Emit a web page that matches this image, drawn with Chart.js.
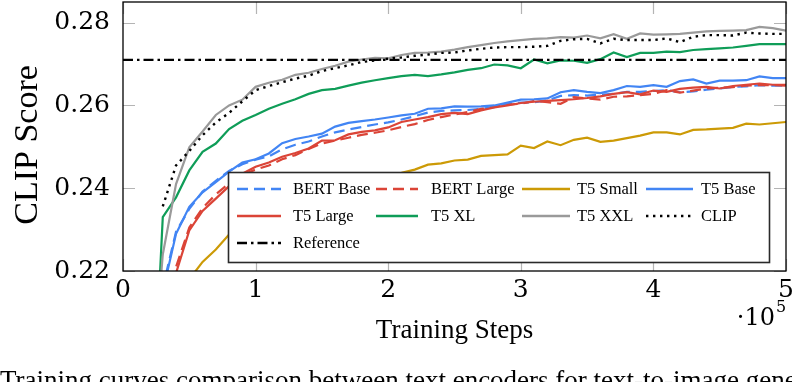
<!DOCTYPE html>
<html><head><meta charset="utf-8">
<script src="https://cdn.jsdelivr.net/npm/chart.js@4.4.1/dist/chart.umd.min.js"></script>
<style>
html,body{margin:0;padding:0;background:#fff;overflow:hidden}
#wrap{position:relative;width:792px;height:382px}
#caption{position:absolute;left:0;top:365px;white-space:nowrap;font-family:'Liberation Serif',serif;font-size:27px;color:#000;line-height:30px}
</style></head><body>
<div id="wrap"><canvas id="c" width="792" height="382"></canvas><div id="caption">Training curves comparison between text encoders for text-to-image generation.</div></div>
<script>
// Training steps (in units of 10^5)
const steps = [0.2,0.3,0.4,0.5,0.6,0.7,0.8,0.9,1.0,1.1,1.2,1.3,1.4,1.5,1.6,1.7,1.8,1.9,2.0,2.1,2.2,2.3,2.4,2.5,2.6,2.7,2.8,2.9,3.0,3.1,3.2,3.3,3.4,3.5,3.6,3.7,3.8,3.9,4.0,4.1,4.2,4.3,4.4,4.5,4.6,4.7,4.8,4.9,5.0];
const bertBase = [0.17,0.216,0.2295,0.235,0.2392,0.2418,0.2442,0.2458,0.2469,0.2477,0.2494,0.2505,0.2513,0.2525,0.2535,0.2542,0.2548,0.2554,0.2559,0.2566,0.2574,0.2583,0.2587,0.2588,0.2589,0.2592,0.2596,0.2603,0.2607,0.2608,0.2612,0.2623,0.2625,0.2624,0.2626,0.2628,0.2633,0.2633,0.2635,0.2637,0.2632,0.2634,0.2638,0.2641,0.2645,0.2646,0.2649,0.2648,0.2648];
const bertLarge = [0.16,0.207,0.221,0.2305,0.2352,0.2385,0.2412,0.2432,0.2445,0.2455,0.247,0.248,0.2495,0.2508,0.2515,0.2522,0.2529,0.2534,0.254,0.2548,0.2555,0.2565,0.2572,0.2578,0.2584,0.2592,0.2598,0.2602,0.2604,0.2611,0.2608,0.2604,0.262,0.2617,0.2614,0.2621,0.2622,0.2625,0.2628,0.2637,0.2631,0.2636,0.2641,0.2643,0.2644,0.2648,0.2649,0.2649,0.2648];
const t5Small = [0.17,0.19,0.205,0.218,0.2222,0.2252,0.2288,0.2315,0.2335,0.2352,0.2368,0.2382,0.2393,0.2403,0.2411,0.2418,0.2424,0.243,0.2432,0.2437,0.2445,0.2457,0.246,0.2467,0.2469,0.2478,0.248,0.2482,0.2503,0.2497,0.2513,0.2504,0.2517,0.2522,0.2512,0.2515,0.2521,0.2527,0.2535,0.2535,0.253,0.2541,0.2542,0.2544,0.2546,0.2556,0.2554,0.2557,0.256];
const t5Base = [0.17,0.215,0.229,0.2355,0.239,0.2415,0.244,0.2462,0.247,0.2484,0.2509,0.2519,0.2525,0.2532,0.2549,0.2558,0.2562,0.2566,0.2571,0.2576,0.258,0.2592,0.2593,0.2598,0.2597,0.2598,0.26,0.2607,0.2614,0.2615,0.2617,0.2632,0.2637,0.2633,0.263,0.2637,0.2647,0.2645,0.2649,0.2645,0.2659,0.2663,0.2653,0.266,0.266,0.2661,0.267,0.2666,0.2666];
const t5Large = [0.15,0.2,0.2195,0.2298,0.2345,0.2375,0.2405,0.2435,0.2452,0.2462,0.2476,0.2485,0.2496,0.2515,0.2516,0.253,0.2536,0.254,0.2547,0.256,0.2566,0.2572,0.2579,0.2582,0.2579,0.2588,0.2595,0.26,0.2606,0.2609,0.2611,0.2613,0.2615,0.2618,0.2622,0.2628,0.2632,0.2627,0.2636,0.2633,0.264,0.2643,0.2645,0.2641,0.2647,0.265,0.2653,0.265,0.265];
const t5XL = [0.168,0.233,0.2378,0.2443,0.2488,0.2508,0.2543,0.2563,0.2577,0.2592,0.2604,0.2615,0.2628,0.2637,0.264,0.2648,0.2655,0.2661,0.2666,0.2671,0.2674,0.2671,0.2675,0.268,0.2686,0.269,0.2699,0.2697,0.269,0.2711,0.2702,0.2709,0.2708,0.2703,0.2712,0.2728,0.2717,0.2727,0.2727,0.273,0.2729,0.2734,0.2736,0.2738,0.274,0.2744,0.2748,0.2748,0.2748];
const t5XXL = [0.184,0.224,0.241,0.2499,0.2537,0.2577,0.26,0.2614,0.2645,0.2655,0.2662,0.2674,0.2679,0.2688,0.2696,0.2706,0.2711,0.2715,0.2714,0.2722,0.2727,0.2728,0.273,0.2735,0.2741,0.2746,0.2751,0.2755,0.2758,0.2761,0.2762,0.2765,0.2764,0.2769,0.2762,0.2772,0.2761,0.2774,0.2771,0.2772,0.2773,0.2776,0.2779,0.278,0.2781,0.2782,0.279,0.2787,0.2781];
const clip = [null,0.2356,0.2455,0.249,0.2528,0.2559,0.2582,0.261,0.2637,0.2647,0.2656,0.2665,0.2672,0.2683,0.269,0.2697,0.2705,0.2709,0.2713,0.2716,0.272,0.2723,0.2727,0.2728,0.2733,0.2737,0.274,0.2741,0.2741,0.2742,0.2744,0.2756,0.276,0.2761,0.275,0.2761,0.2758,0.2758,0.2758,0.2762,0.2753,0.2766,0.277,0.277,0.2769,0.2776,0.2774,0.2773,0.2773];
const referenceSteps = [0, 5];
const referenceScore = [0.271, 0.271];
const xTicks = [0, 1, 2, 3, 4, 5];
const yTicks = [0.22, 0.24, 0.26, 0.28];

const SERIF = "'Liberation Serif','Times New Roman',serif";
const TICKSERIF = "'DejaVu Serif','Liberation Serif',serif";
Chart.defaults.font.family = SERIF;
Chart.defaults.color = '#000';

const pts = (xs, ys) => xs.map((x, i) => ({x: x, y: ys[i]}));
const series = [
  {label:'BERT Base', data:pts(steps,bertBase), color:'#4285F4', dash:[11,6], w:2.2},
  {label:'BERT Large', data:pts(steps,bertLarge), color:'#DB4437', dash:[11,6], w:2.2},
  {label:'T5 Small', data:pts(steps,t5Small), color:'#CC9A06', dash:[], w:2.2},
  {label:'T5 Base', data:pts(steps,t5Base), color:'#4285F4', dash:[], w:2.2},
  {label:'T5 Large', data:pts(steps,t5Large), color:'#DB4437', dash:[], w:2.2},
  {label:'T5 XL', data:pts(steps,t5XL), color:'#0F9D58', dash:[], w:2.2},
  {label:'T5 XXL', data:pts(steps,t5XXL), color:'#9A9A9A', dash:[], w:2.2},
  {label:'CLIP', data:pts(steps,clip), color:'#000000', dash:[2.4,4.6], w:2.4},
  {label:'Reference', data:pts(referenceSteps,referenceScore), color:'#000000', dash:[10,4,2.5,4], w:2.2}
];

const legendLayout = {
  box: {left:228.5, top:172.5, right:769.5, bottom:262.5},
  rows: [189, 216, 243],
  samples: [[237,281],[376,418],[522,570],[646,693]],
  texts: [293, 431, 577, 701],
  font: "16.5px " + SERIF
};

const decor = {
  id: 'decor',
  beforeDatasetsDraw(chart) {
    const {ctx, chartArea: a, scales: {x, y}} = chart;
    ctx.save();
    ctx.strokeStyle = '#b4b4b4';
    ctx.lineWidth = 1.2;
    const L = 12;
    ctx.beginPath();
    x.ticks.forEach(t => {
      const px = Math.round(x.getPixelForValue(t.value)) + 0.5;
      ctx.moveTo(px, a.bottom); ctx.lineTo(px, a.bottom - L);
      ctx.moveTo(px, a.top); ctx.lineTo(px, a.top + L);
    });
    y.ticks.forEach(t => {
      const py = Math.round(y.getPixelForValue(t.value)) + 0.5;
      ctx.moveTo(a.left, py); ctx.lineTo(a.left + L, py);
      ctx.moveTo(a.right, py); ctx.lineTo(a.right - L, py);
    });
    ctx.stroke();
    ctx.restore();
  },
  afterDatasetsDraw(chart) {
    const {ctx, chartArea: a} = chart;
    ctx.save();
    ctx.strokeStyle = '#000';
    ctx.lineWidth = 1.3;
    ctx.strokeRect(a.left, a.top, a.right - a.left, a.bottom - a.top);
    const g = legendLayout, b = g.box;
    ctx.fillStyle = '#fff';
    ctx.fillRect(b.left, b.top, b.right - b.left, b.bottom - b.top);
    ctx.strokeStyle = '#2a2a2a';
    ctx.lineWidth = 1.6;
    ctx.strokeRect(b.left, b.top, b.right - b.left, b.bottom - b.top);
    ctx.font = g.font;
    ctx.textBaseline = 'middle';
    ctx.textAlign = 'left';
    series.forEach((s, i) => {
      const row = Math.floor(i / 4), col = i % 4;
      const yy = g.rows[row];
      ctx.beginPath();
      ctx.setLineDash(s.dash);
      ctx.strokeStyle = s.color;
      ctx.lineWidth = s.w + 0.3;
      ctx.moveTo(g.samples[col][0], yy);
      ctx.lineTo(g.samples[col][1], yy);
      ctx.stroke();
      ctx.setLineDash([]);
      ctx.fillStyle = '#000';
      ctx.fillText(s.label, g.texts[col], yy + 1);
    });
    ctx.textBaseline = 'alphabetic';
    ctx.textAlign = 'right';
    ctx.font = "24px " + TICKSERIF;
    ctx.fillText('\u00B710', 775, 325);
    ctx.textAlign = 'left';
    ctx.font = "16px " + TICKSERIF;
    ctx.fillText('5', 776, 312);
    ctx.restore();
  }
};

new Chart(document.getElementById('c'), {
  type: 'line',
  data: {
    datasets: series.map((s, i) => ({
      label: s.label, data: s.data, borderColor: s.color, backgroundColor: s.color,
      borderDash: s.dash, borderWidth: s.w, pointRadius: 0, tension: 0, fill: false,
      spanGaps: false, order: series.length - i
    }))
  },
  options: {
    responsive: false, animation: false, devicePixelRatio: 1,
    layout: {padding: {left: 0, right: 6, top: 2, bottom: 0}},
    plugins: {legend: {display: false}, tooltip: {enabled: false}},
    scales: {
      x: {
        type: 'linear', min: 0, max: 5,
        afterFit(s) { s.height = 111; s.paddingLeft = 0; s.paddingRight = 0; },
        afterBuildTicks(s) { s.ticks = xTicks.map(v => ({value: v})); },
        ticks: {color: '#000', font: {size: 25, family: TICKSERIF}, padding: 4, maxRotation: 0, callback: v => String(v)},
        grid: {display: false, drawTicks: false}, border: {display: false},
        title: {display: true, text: 'Training Steps', color: '#000', font: {size: 27}, padding: {top: 0, bottom: 35}}
      },
      y: {
        type: 'linear', min: 0.22, max: 0.285,
        afterFit(s) { s.width = 123; s.paddingTop = 0; s.paddingBottom = 0; },
        afterBuildTicks(s) { s.ticks = yTicks.map(v => ({value: v})); },
        ticks: {color: '#000', font: {size: 25, family: TICKSERIF}, padding: 13, callback: v => Number(v).toFixed(2)},
        grid: {display: false, drawTicks: false}, border: {display: false},
        title: {display: true, text: 'CLIP Score  ', color: '#000', font: {size: 34}, padding: {top: 8, bottom: 0}}
      }
    }
  },
  plugins: [decor]
});
</script>
</body></html>
